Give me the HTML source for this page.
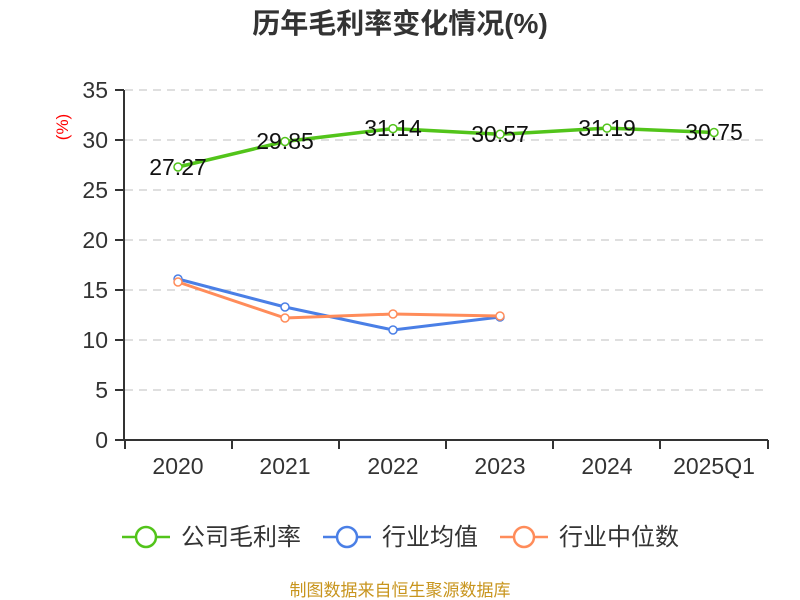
<!DOCTYPE html>
<html><head><meta charset="utf-8"><style>body{margin:0;background:#fff}svg{display:block}</style></head><body>
<svg width="800" height="600" xmlns="http://www.w3.org/2000/svg" font-family="Liberation Sans, Noto Sans CJK SC, sans-serif">
<text x="400" y="33" text-anchor="middle" font-size="28" font-weight="bold" fill="#333">历年毛利率变化情况(%)</text>
<text transform="translate(68,127) rotate(-90)" text-anchor="middle" font-size="17" fill="#f00">(%)</text>
<g stroke="#ccc" stroke-dasharray="8,6" stroke-width="1.3">
<line x1="125" x2="768" y1="90" y2="90"/><line x1="125" x2="768" y1="140" y2="140"/><line x1="125" x2="768" y1="190" y2="190"/><line x1="125" x2="768" y1="240" y2="240"/><line x1="125" x2="768" y1="290" y2="290"/><line x1="125" x2="768" y1="340" y2="340"/><line x1="125" x2="768" y1="390" y2="390"/>
</g>
<g stroke="#333" stroke-width="2">
<line x1="124" y1="90" x2="124" y2="441"/><line x1="124" y1="440" x2="768" y2="440"/>
<line x1="115" x2="124" y1="90" y2="90"/><line x1="115" x2="124" y1="140" y2="140"/><line x1="115" x2="124" y1="190" y2="190"/><line x1="115" x2="124" y1="240" y2="240"/><line x1="115" x2="124" y1="290" y2="290"/><line x1="115" x2="124" y1="340" y2="340"/><line x1="115" x2="124" y1="390" y2="390"/><line x1="115" x2="124" y1="440" y2="440"/>
<line x1="125" x2="125" y1="440" y2="449"/><line x1="232" x2="232" y1="440" y2="449"/><line x1="339" x2="339" y1="440" y2="449"/><line x1="446" x2="446" y1="440" y2="449"/><line x1="553" x2="553" y1="440" y2="449"/><line x1="660" x2="660" y1="440" y2="449"/><line x1="768" x2="768" y1="440" y2="449"/>
</g>
<g font-size="23" fill="#333" text-anchor="end">
<text x="108" y="98">35</text><text x="108" y="148">30</text><text x="108" y="198">25</text><text x="108" y="248">20</text><text x="108" y="298">15</text><text x="108" y="348">10</text><text x="108" y="398">5</text><text x="108" y="448">0</text>
</g>
<g font-size="23" fill="#333" text-anchor="middle">
<text x="178" y="474">2020</text><text x="285" y="474">2021</text><text x="393" y="474">2022</text><text x="500" y="474">2023</text><text x="607" y="474">2024</text><text x="714" y="474">2025Q1</text>
</g>
<polyline fill="none" stroke="#52c41a" stroke-width="3.5" points="178,167 285,141.5 393,128.6 500,134.3 607,128.1 714,132.5"/>
<polyline fill="none" stroke="#4a7fe6" stroke-width="3" points="178,279 285,307 393,330 500,317"/>
<polyline fill="none" stroke="#ff8c5a" stroke-width="3" points="178,282 285,318 393,314 500,316"/>
<g fill="#fff" stroke-width="1.5">
<g stroke="#52c41a"><circle cx="178" cy="167" r="4"/><circle cx="285" cy="141.5" r="4"/><circle cx="393" cy="128.6" r="4"/><circle cx="500" cy="134.3" r="4"/><circle cx="607" cy="128.1" r="4"/><circle cx="714" cy="132.5" r="4"/></g>
<g stroke="#4a7fe6"><circle cx="178" cy="279" r="4"/><circle cx="285" cy="307" r="4"/><circle cx="393" cy="330" r="4"/><circle cx="500" cy="317" r="4"/></g>
<g stroke="#ff8c5a"><circle cx="178" cy="282" r="4"/><circle cx="285" cy="318" r="4"/><circle cx="393" cy="314" r="4"/><circle cx="500" cy="316" r="4"/></g>
</g>
<g font-size="23" fill="#111" text-anchor="middle">
<text x="178" y="175">27.27</text><text x="285" y="149">29.85</text><text x="393" y="136">31.14</text><text x="500" y="142">30.57</text><text x="607" y="136">31.19</text><text x="714" y="140">30.75</text>
</g>
<g stroke-width="2.5" fill="#fff">
<line x1="122" x2="170" y1="537" y2="537" stroke="#52c41a"/><circle cx="146" cy="537" r="10" stroke="#52c41a"/>
<line x1="323" x2="371" y1="537" y2="537" stroke="#4a7fe6"/><circle cx="347" cy="537" r="10" stroke="#4a7fe6"/>
<line x1="500" x2="548" y1="537" y2="537" stroke="#ff8c5a"/><circle cx="524" cy="537" r="10" stroke="#ff8c5a"/>
</g>
<g font-size="24" fill="#333">
<text x="181" y="545">公司毛利率</text><text x="382" y="545">行业均值</text><text x="559" y="545">行业中位数</text>
</g>
<text x="400" y="596" text-anchor="middle" font-size="17" fill="#c8951e">制图数据来自恒生聚源数据库</text>
</svg>
</body></html>
